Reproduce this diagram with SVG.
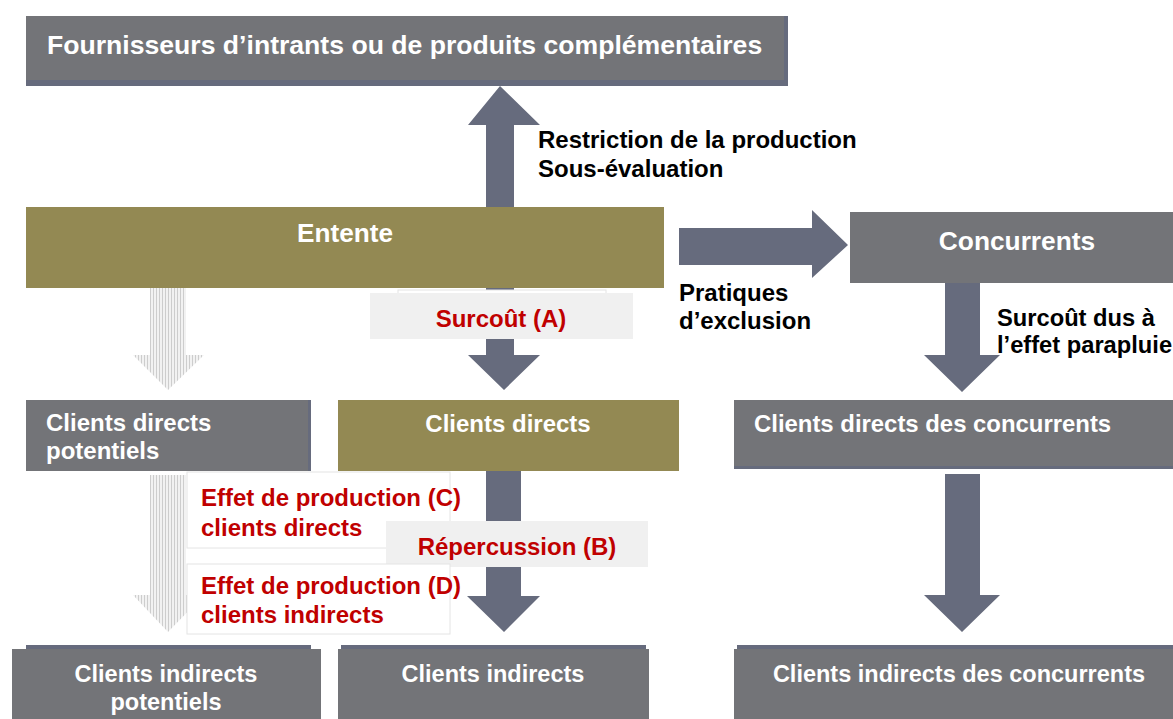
<svg xmlns="http://www.w3.org/2000/svg" width="1173" height="719" viewBox="0 0 1173 719">
<defs>
<pattern id="hatch" width="3" height="3" patternUnits="userSpaceOnUse">
<rect width="3" height="3" fill="#f2f2f2"/>
<rect width="1" height="3" fill="#cdcdcd"/>
</pattern>
</defs>
<style>
.gray{fill:#737478}
.olive{fill:#938953}
.strip{fill:#666b7d}
.arr{fill:#666b7d}
.hatch{fill:url(#hatch)}
.lbl{fill:#f0f0f0}
.wbox{fill:#fff;stroke:#e4e4e4;stroke-width:1}
text{font-family:"Liberation Sans",Arial,sans-serif;font-weight:bold}
.w{fill:#fff;font-size:24px}
.k{fill:#000;font-size:24px}
.r{fill:#c00000;font-size:24px}
.b{font-size:23.5px}
</style>
<g id="connectors">
<path class="arr" d="M486,207 V125 H468 L500,86 L540,125 H514 V207 Z"/>
<path class="arr" d="M486,288 V355 H468 L504,390 L540,355 H514 V288 Z"/>
<path class="hatch" d="M150,288 V355 H133 L168,390 L204,355 H186 V288 Z"/>
<path class="arr" d="M679,228 H812 V210 L848,245 L812,278 V265 H679 Z"/>
<path class="arr" d="M945,283 V355 H924 L962,392 L1000,355 H980 V283 Z"/>
<path class="arr" d="M486,471 V596 H467 L504,632 L540,596 H521 V471 Z"/>
<path class="hatch" d="M150,475 V595 H133 L168,632 L204,595 H186 V475 Z"/>
<path class="arr" d="M945,474 V595 H924 L962,632 L1000,595 H980 V474 Z"/>
</g>
<g id="fournisseurs">
<rect class="strip" x="26" y="16" width="762" height="70"/>
<rect class="gray" x="26" y="16" width="758" height="64"/>
<text class="w" x="47" y="54" style="font-size:26.6px">Fournisseurs d’intrants ou de produits complémentaires</text>
</g>
<g id="label-restriction">
<text class="k" x="538" y="148">Restriction de la production</text>
<text class="k" x="538" y="177">Sous-évaluation</text>
</g>
<g id="entente">
<rect class="olive" x="26" y="207" width="638" height="81"/>
<text class="w" x="345" y="242" text-anchor="middle" style="font-size:26.2px">Entente</text>
</g>
<g id="concurrents">
<rect class="gray" x="850" y="212" width="323" height="71"/>
<text class="w" x="1017" y="250" text-anchor="middle" style="font-size:26.3px">Concurrents</text>
</g>
<g id="label-pratiques">
<text class="k" x="679" y="301">Pratiques</text>
<text class="k" x="679" y="329">d’exclusion</text>
</g>
<g id="label-surcout-a">
<rect class="wbox" x="398" y="290" width="208" height="10"/>
<rect class="lbl" x="370" y="293" width="263" height="46"/>
<text class="r" x="501" y="327" text-anchor="middle">Surcoût (A)</text>
</g>
<g id="label-parapluie">
<text class="k" x="997" y="326" style="font-size:23.7px">Surcoût dus à</text>
<text class="k" x="997" y="353" style="font-size:23.7px">l’effet parapluie</text>
</g>
<g id="clients-directs-potentiels">
<rect class="strip" x="26" y="400" width="285" height="71"/>
<rect class="gray" x="26" y="400" width="282" height="71"/>
<text class="w" x="46" y="431">Clients directs</text>
<text class="w" x="46" y="459">potentiels</text>
</g>
<g id="clients-directs">
<rect class="olive" x="338" y="400" width="341" height="71"/>
<text class="w" x="508" y="432" text-anchor="middle">Clients directs</text>
</g>
<g id="clients-directs-concurrents">
<rect class="strip" x="734" y="400" width="439" height="69"/>
<rect class="gray" x="734" y="400" width="439" height="66"/>
<text class="w" x="754" y="432" style="font-size:23.9px">Clients directs des concurrents</text>
</g>
<g id="label-effet-c">
<rect class="wbox" x="187" y="472" width="263" height="76"/>
<text class="r" x="201" y="506">Effet de production (C)</text>
<text class="r" x="201" y="536">clients directs</text>
</g>
<g id="label-repercussion">
<rect class="lbl" x="386" y="521" width="262" height="46"/>
<text class="r" x="517" y="555" text-anchor="middle">Répercussion (B)</text>
</g>
<g id="label-effet-d">
<rect class="wbox" x="187" y="564" width="263" height="70"/>
<text class="r" x="201" y="594">Effet de production (D)</text>
<text class="r" x="201" y="623">clients indirects</text>
</g>
<g id="clients-indirects-potentiels">
<rect class="strip" x="26" y="645" width="285" height="6"/>
<rect class="gray" x="12" y="649" width="309" height="70"/>
<text class="w b" x="166" y="682" text-anchor="middle">Clients indirects</text>
<text class="w b" x="166" y="710" text-anchor="middle">potentiels</text>
</g>
<g id="clients-indirects">
<rect class="strip" x="341" y="645" width="305" height="6"/>
<rect class="gray" x="338" y="649" width="311" height="70"/>
<text class="w b" x="493" y="682" text-anchor="middle">Clients indirects</text>
</g>
<g id="clients-indirects-concurrents">
<rect class="strip" x="737" y="645" width="436" height="6"/>
<rect class="gray" x="734" y="649" width="439" height="70"/>
<text class="w b" x="959" y="682" text-anchor="middle">Clients indirects des concurrents</text>
</g>
</svg>
